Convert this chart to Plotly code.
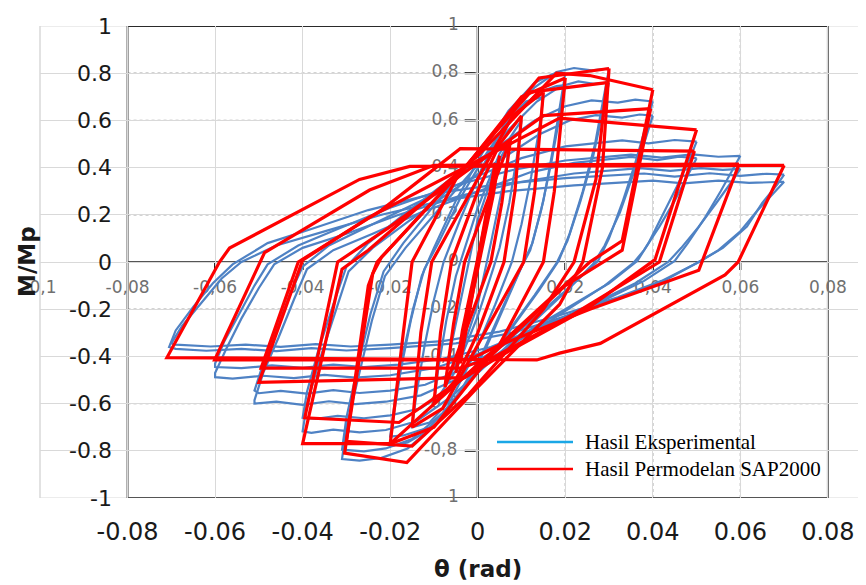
import plotly.graph_objects as go

# ---------------- data (theta [rad], M/Mp) ----------------
# SAP2000 model loops (vertices)
red_070 = [(0.0700,0.410),(0.0595,0.000),(0.0565,-0.055),(0.0280,-0.345),(0.0187,-0.386),(0.0135,-0.415),
           (-0.0710,-0.405),(-0.0590,0.000),(-0.0567,0.059),(-0.0270,0.350),(-0.0155,0.405),(0.0700,0.410)]
red_060 = [(0.0597,0.415),(0.0505,-0.035),(0.0256,-0.200),(0.0040,-0.360),(-0.0020,-0.415),(-0.0601,-0.415),
           (-0.0487,0.040),(-0.0247,0.305),(-0.0100,0.410),(0.0597,0.415)]
red_050a = [(0.0500,0.560),(0.0405,0.010),(0.0256,-0.190),(0.0050,-0.400),(-0.0030,-0.490),(-0.0500,-0.510),
            (-0.0400,0.008),(-0.0247,0.190),(0.0187,0.610),(0.0500,0.560)]
red_050b = [(0.0495,0.470),(0.0415,0.000),(0.0220,-0.220),(0.0040,-0.400),(-0.0040,-0.450),(-0.0495,-0.450),
            (-0.0410,0.000),(-0.0220,0.220),(-0.0040,0.480),(0.0495,0.470)]
red_040a = [(0.0400,0.730),(0.0330,0.090),(0.0256,0.000),(0.0080,-0.300),(-0.0200,-0.770),(-0.0400,-0.770),
            (-0.0310,-0.030),(-0.0250,0.050),(0.0000,0.450),(0.0180,0.800),(0.0256,0.790),(0.0400,0.730)]
red_040b = [(0.0395,0.650),(0.0330,0.050),(0.0200,-0.100),(0.0000,-0.450),(-0.0180,-0.680),(-0.0395,-0.660),
            (-0.0320,0.000),(-0.0200,0.150),(0.0000,0.420),(0.0150,0.620),(0.0395,0.650)]
red_030a = [(0.0300,0.820),(0.0285,0.400),(0.0240,0.000),(0.0187,-0.180),(0.0000,-0.530),(-0.0162,-0.850),
            (-0.0304,-0.810),(-0.0250,-0.100),(-0.0230,0.000),(-0.0020,0.420),(0.0140,0.780),(0.0300,0.820)]
red_030b = [(0.0295,0.760),(0.0270,0.350),(0.0220,0.000),(0.0150,-0.200),(-0.0020,-0.560),(-0.0150,-0.780),
            (-0.0300,-0.760),(-0.0240,-0.050),(-0.0220,0.020),(-0.0030,0.400),(0.0120,0.720),(0.0295,0.760)]
red_020 = [(0.0200,0.780),(0.0175,0.300),(0.0150,0.000),(0.0050,-0.350),(-0.0100,-0.700),(-0.0200,-0.770),
           (-0.0170,-0.300),(-0.0150,0.000),(-0.0050,0.350),(0.0100,0.700),(0.0200,0.780)]
red_015 = [(0.0150,0.720),(0.0130,0.300),(0.0105,0.000),(0.0000,-0.350),(-0.0080,-0.620),(-0.0150,-0.700),
           (-0.0130,-0.300),(-0.0105,0.000),(0.0000,0.350),(0.0080,0.620),(0.0150,0.720)]
red_010 = [(0.0100,0.620),(0.0085,0.300),(0.0060,0.000),(0.0000,-0.300),(-0.0050,-0.500),(-0.0100,-0.600),
           (-0.0085,-0.300),(-0.0060,0.000),(0.0000,0.300),(0.0050,0.500),(0.0100,0.620)]
red_0075 = [(0.0075,0.520),(0.0055,0.250),(0.0030,0.000),(-0.0075,-0.530),(-0.0055,-0.260),(-0.0030,0.000),(0.0075,0.520)]
red_005 = [(0.0050,0.450),(0.0035,0.280),(-0.0050,-0.470),(-0.0035,-0.290),(0.0050,0.450)]
red_004 = [(0.0040,0.420),(0.0030,0.300),(-0.0040,-0.430),(-0.0030,-0.310),(0.0040,0.420)]

# Experimental loops
blue_070a = [(0.0700,0.370),(0.0685,0.330),(0.0650,0.250),(0.0615,0.150),(0.0560,0.060),(0.0510,0.005),(0.0430,-0.075),
             (0.0330,-0.150),(0.0200,-0.230),(0.0080,-0.300),(-0.0050,-0.345),(-0.0200,-0.365),(-0.0300,-0.375),
             (-0.0380,-0.365),(-0.0460,-0.378),(-0.0540,-0.368),(-0.0620,-0.376),(-0.0690,-0.368),(-0.0705,-0.360),
             (-0.0690,-0.290),(-0.0650,-0.190),(-0.0605,-0.090),(-0.0560,-0.010),(-0.0480,0.080),(-0.0380,0.140),
             (-0.0250,0.220),(-0.0100,0.290),(0.0050,0.330),(0.0200,0.355),(0.0300,0.365),(0.0380,0.375),
             (0.0450,0.362),(0.0530,0.376),(0.0600,0.365),(0.0660,0.374),(0.0700,0.370)]
blue_070b = [(0.0700,0.340),(0.0680,0.300),(0.0640,0.220),(0.0600,0.130),(0.0550,0.050),(0.0500,-0.005),(0.0420,-0.080),
             (0.0320,-0.150),(0.0180,-0.230),(0.0050,-0.295),(-0.0080,-0.335),(-0.0200,-0.350),(-0.0290,-0.358),
             (-0.0370,-0.348),(-0.0450,-0.360),(-0.0530,-0.350),(-0.0610,-0.358),(-0.0690,-0.350),(-0.0700,-0.345),
             (-0.0675,-0.270),(-0.0630,-0.170),(-0.0585,-0.070),(-0.0540,0.000),(-0.0460,0.070),(-0.0350,0.130),
             (-0.0220,0.200),(-0.0080,0.260),(0.0070,0.300),(0.0220,0.325),(0.0320,0.335),(0.0400,0.345),
             (0.0470,0.333),(0.0550,0.345),(0.0620,0.335),(0.0700,0.340)]
blue_060a = [(0.0600,0.450),(0.0585,0.400),(0.0555,0.300),(0.0520,0.190),(0.0480,0.080),(0.0450,0.005),(0.0380,-0.080),
             (0.0280,-0.170),(0.0150,-0.270),(0.0030,-0.360),(-0.0080,-0.410),(-0.0180,-0.435),(-0.0260,-0.445),
             (-0.0330,-0.435),(-0.0400,-0.448),(-0.0470,-0.438),(-0.0540,-0.450),(-0.0600,-0.445),(-0.0600,-0.430),
             (-0.0580,-0.340),(-0.0545,-0.220),(-0.0510,-0.100),(-0.0480,-0.010),(-0.0410,0.070),(-0.0320,0.140),
             (-0.0200,0.230),(-0.0060,0.320),(0.0080,0.390),(0.0200,0.430),(0.0280,0.445),(0.0350,0.455),
             (0.0420,0.442),(0.0490,0.456),(0.0550,0.446),(0.0600,0.450)]
blue_060b = [(0.0600,0.395),(0.0580,0.340),(0.0545,0.250),(0.0505,0.150),(0.0465,0.060),(0.0435,0.000),(0.0360,-0.090),
             (0.0250,-0.190),(0.0120,-0.300),(0.0000,-0.390),(-0.0100,-0.450),(-0.0200,-0.480),(-0.0280,-0.490),
             (-0.0350,-0.478),(-0.0420,-0.492),(-0.0490,-0.482),(-0.0560,-0.494),(-0.0600,-0.488),(-0.0600,-0.470),
             (-0.0575,-0.370),(-0.0540,-0.240),(-0.0500,-0.110),(-0.0465,-0.010),(-0.0400,0.060),(-0.0300,0.120),
             (-0.0180,0.200),(-0.0040,0.280),(0.0100,0.340),(0.0220,0.375),(0.0300,0.388),(0.0370,0.398),
             (0.0440,0.386),(0.0510,0.398),(0.0560,0.390),(0.0600,0.395)]
blue_050a = [(0.0500,0.510),(0.0485,0.440),(0.0455,0.320),(0.0420,0.190),(0.0390,0.080),(0.0365,0.005),(0.0300,-0.090),
             (0.0200,-0.200),(0.0080,-0.330),(-0.0030,-0.450),(-0.0120,-0.520),(-0.0200,-0.545),(-0.0270,-0.555),
             (-0.0330,-0.543),(-0.0390,-0.558),(-0.0450,-0.546),(-0.0500,-0.556),(-0.0510,-0.545),(-0.0490,-0.430),
             (-0.0460,-0.290),(-0.0430,-0.140),(-0.0400,-0.020),(-0.0340,0.070),(-0.0250,0.150),(-0.0140,0.250),
             (-0.0020,0.350),(0.0100,0.440),(0.0200,0.490),(0.0270,0.505),(0.0330,0.515),(0.0390,0.503),
             (0.0450,0.517),(0.0500,0.510)]
blue_050b = [(0.0500,0.440),(0.0480,0.370),(0.0450,0.260),(0.0415,0.150),(0.0380,0.050),(0.0355,-0.005),(0.0290,-0.100),
             (0.0190,-0.220),(0.0070,-0.360),(-0.0040,-0.490),(-0.0130,-0.565),(-0.0210,-0.592),(-0.0280,-0.602),
             (-0.0340,-0.590),(-0.0400,-0.605),(-0.0460,-0.592),(-0.0510,-0.600),(-0.0510,-0.585),(-0.0490,-0.470),
             (-0.0455,-0.320),(-0.0420,-0.160),(-0.0390,-0.030),(-0.0330,0.050),(-0.0240,0.120),(-0.0130,0.210),
             (0.0000,0.300),(0.0120,0.380),(0.0220,0.420),(0.0290,0.435),(0.0350,0.445),(0.0410,0.432),
             (0.0460,0.446),(0.0500,0.440)]
blue_040a = [(0.0400,0.680),(0.0385,0.580),(0.0360,0.420),(0.0330,0.250),(0.0300,0.100),(0.0275,0.005),(0.0220,-0.090),
             (0.0140,-0.220),(0.0040,-0.380),(-0.0050,-0.520),(-0.0130,-0.620),(-0.0200,-0.650),(-0.0260,-0.662),
             (-0.0320,-0.652),(-0.0370,-0.665),(-0.0400,-0.660),(-0.0390,-0.550),(-0.0365,-0.380),(-0.0330,-0.180),
             (-0.0300,-0.020),(-0.0250,0.080),(-0.0170,0.200),(-0.0070,0.340),(0.0040,0.480),(0.0130,0.600),
             (0.0200,0.660),(0.0260,0.685),(0.0320,0.675),(0.0360,0.688),(0.0400,0.680)]
blue_040b = [(0.0400,0.620),(0.0383,0.520),(0.0355,0.370),(0.0325,0.210),(0.0290,0.070),(0.0265,-0.005),(0.0210,-0.110),
             (0.0130,-0.250),(0.0030,-0.420),(-0.0060,-0.570),(-0.0140,-0.675),(-0.0210,-0.712),(-0.0270,-0.722),
             (-0.0330,-0.710),(-0.0380,-0.724),(-0.0400,-0.718),(-0.0390,-0.600),(-0.0362,-0.420),(-0.0325,-0.210),
             (-0.0295,-0.040),(-0.0240,0.060),(-0.0160,0.170),(-0.0060,0.300),(0.0050,0.430),(0.0140,0.540),
             (0.0210,0.600),(0.0270,0.622),(0.0330,0.612),(0.0370,0.625),(0.0400,0.620)]
blue_030a = [(0.0300,0.820),(0.0288,0.700),(0.0268,0.500),(0.0240,0.300),(0.0210,0.120),(0.0185,0.005),(0.0140,-0.120),
             (0.0070,-0.300),(-0.0010,-0.480),(-0.0080,-0.640),(-0.0150,-0.750),(-0.0210,-0.790),(-0.0260,-0.802),
             (-0.0310,-0.795),(-0.0300,-0.660),(-0.0275,-0.450),(-0.0245,-0.220),(-0.0215,-0.040),(-0.0170,0.080),
             (-0.0100,0.240),(-0.0020,0.420),(0.0060,0.600),(0.0130,0.740),(0.0180,0.805),(0.0220,0.822),
             (0.0260,0.812),(0.0300,0.820)]
blue_030b = [(0.0300,0.760),(0.0286,0.640),(0.0264,0.450),(0.0235,0.260),(0.0205,0.090),(0.0180,-0.005),(0.0130,-0.140),
             (0.0060,-0.320),(-0.0020,-0.510),(-0.0090,-0.680),(-0.0160,-0.790),(-0.0220,-0.830),(-0.0270,-0.842),
             (-0.0310,-0.835),(-0.0300,-0.700),(-0.0272,-0.480),(-0.0242,-0.250),(-0.0212,-0.060),(-0.0165,0.060),
             (-0.0095,0.210),(-0.0015,0.380),(0.0065,0.550),(0.0135,0.680),(0.0190,0.745),(0.0230,0.765),
             (0.0265,0.755),(0.0300,0.760)]
blue_020a = [(0.0200,0.800),(0.0190,0.680),(0.0172,0.480),(0.0150,0.260),(0.0125,0.080),(0.0105,0.000),(0.0070,-0.150),
             (0.0020,-0.360),(-0.0040,-0.560),(-0.0100,-0.700),(-0.0160,-0.765),(-0.0200,-0.780),(-0.0192,-0.650),
             (-0.0175,-0.450),(-0.0152,-0.240),(-0.0128,-0.060),(-0.0100,0.060),(-0.0050,0.260),(0.0010,0.460),
             (0.0070,0.640),(0.0130,0.760),(0.0170,0.795),(0.0200,0.800)]
blue_020b = [(0.0200,0.750),(0.0188,0.620),(0.0168,0.420),(0.0145,0.220),(0.0120,0.050),(0.0100,-0.020),(0.0060,-0.180),
             (0.0010,-0.390),(-0.0050,-0.580),(-0.0110,-0.700),(-0.0170,-0.735),(-0.0200,-0.740),(-0.0190,-0.600),
             (-0.0172,-0.400),(-0.0148,-0.200),(-0.0122,-0.030),(-0.0090,0.080),(-0.0040,0.270),(0.0020,0.460),
             (0.0080,0.620),(0.0140,0.720),(0.0180,0.745),(0.0200,0.750)]
blue_015 = [(0.0150,0.700),(0.0140,0.560),(0.0122,0.360),(0.0100,0.160),(0.0078,0.000),(0.0040,-0.180),(-0.0010,-0.400),
            (-0.0060,-0.580),(-0.0110,-0.680),(-0.0150,-0.700),(-0.0140,-0.560),(-0.0122,-0.360),(-0.0100,-0.160),
            (-0.0078,0.000),(-0.0040,0.180),(0.0010,0.400),(0.0060,0.580),(0.0110,0.680),(0.0150,0.700)]
blue_010 = [(0.0100,0.600),(0.0090,0.450),(0.0072,0.250),(0.0050,0.060),(0.0035,-0.030),(0.0000,-0.230),(-0.0050,-0.460),
            (-0.0100,-0.600),(-0.0090,-0.450),(-0.0072,-0.250),(-0.0050,-0.060),(-0.0035,0.030),(0.0000,0.230),
            (0.0050,0.460),(0.0100,0.600)]
blue_0075 = [(0.0075,0.520),(0.0060,0.350),(0.0030,0.080),(0.0000,-0.180),(-0.0040,-0.400),(-0.0075,-0.520),
             (-0.0060,-0.350),(-0.0030,-0.080),(0.0000,0.180),(0.0040,0.400),(0.0075,0.520)]

red_loops = [red_070, red_060, red_050a, red_050b, red_040a, red_040b, red_030a, red_030b,
             red_020, red_015, red_010, red_0075, red_005, red_004]
blue_loops = [blue_070a, blue_070b, blue_060a, blue_060b, blue_050a, blue_050b, blue_040a, blue_040b,
              blue_030a, blue_030b, blue_020a, blue_020b, blue_015, blue_010, blue_0075]

x_ticks = [-0.1, -0.08, -0.06, -0.04, -0.02, 0, 0.02, 0.04, 0.06, 0.08]
x_ticktext = ["", "-0.08", "-0.06", "-0.04", "-0.02", "0", "0.02", "0.04", "0.06", "0.08"]
y_ticks = [1, 0.8, 0.6, 0.4, 0.2, 0, -0.2, -0.4, -0.6, -0.8, -1]
y_ticktext = ["1", "0.8", "0.6", "0.4", "0.2", "0", "-0.2", "-0.4", "-0.6", "-0.8", "-1"]
inner_x_ticks = [-0.1, -0.08, -0.06, -0.04, -0.02, 0.02, 0.04, 0.06, 0.08]
inner_x_text = ["-0,1", "-0,08", "-0,06", "-0,04", "-0,02", "0,02", "0,04", "0,06", "0,08"]
inner_y_ticks = [1, 0.8, 0.6, 0.4, 0.2, 0, -0.2, -0.4, -0.6, -0.8, -1]
inner_y_text = ["1", "0,8", "0,6", "0,4", "0,2", "0", "-0,2", "-0,4", "-0,6", "-0,8", "1"]

# ---------------- geometry helpers (screen pixel -> coordinates) ----------------
# the page body adds an 8px offset, so the figure is drawn 8px right/down of the window corner
OFF = 8
W, H = 866, 585
PL, PT, PW, PH = 40, 26, 826, 472          # wanted plot area on screen
L, T = PL - OFF, PT - OFF
R, B = W - L - PW, H - T - PH
def pxx(p):  # screen pixel x -> paper
    return (p - PL) / PW
def pxy(p):  # screen pixel y -> paper
    return (PT + PH - p) / PH
def thx(p):  # screen pixel x -> theta
    return (p - 478) / 4375.0
def my(p):   # screen pixel y -> M
    return (262 - p) / 236.0

def flatten(loops):
    xs, ys = [], []
    for lp in loops:
        for t, m in lp:
            xs.append(t); ys.append(m)
        xs.append(None); ys.append(None)
    return xs, ys

fig = go.Figure()

# inner (embedded chart) labels, drawn beneath the curves
lab_x, lab_y, lab_t = [], [], []
for v, s in zip(inner_x_ticks, inner_x_text):
    lab_x.append(v); lab_y.append(my(289)); lab_t.append(s)
for v, s in zip(inner_y_ticks, inner_y_text):
    w = len(s) * 8.5
    lab_x.append(thx(458 - w / 2)); lab_y.append(v); lab_t.append(s)
fig.add_trace(go.Scatter(x=lab_x, y=lab_y, text=lab_t, mode="text", cliponaxis=False,
                         textfont=dict(family="DejaVu Sans", size=17, color="#707070"),
                         showlegend=False, hoverinfo="skip"))

bx, by = flatten(blue_loops)
fig.add_trace(go.Scatter(x=bx, y=by, mode="lines", line=dict(color="#4f82c4", width=2.2),
                         showlegend=False, connectgaps=False))
rx, ry = flatten(red_loops)
fig.add_trace(go.Scatter(x=rx, y=ry, mode="lines", line=dict(color="#ff0000", width=3.2),
                         showlegend=False, connectgaps=False))

shapes = []
# dotted inner grid
for v in [0.8, 0.6, 0.2, -0.2, -0.6]:
    shapes.append(dict(type="line", xref="x", yref="y", x0=-0.08, x1=0.08, y0=v, y1=v, layer="below",
                       line=dict(color="#a8a8a8", width=1.3, dash="dot")))
for v in [0.02, 0.04, 0.06]:
    shapes.append(dict(type="line", xref="x", yref="y", x0=v, x1=v, y0=-1, y1=1, layer="below",
                       line=dict(color="#a8a8a8", width=1.3, dash="dot")))
# outer grid lines at the plot edges
for v in [1, -1]:
    shapes.append(dict(type="line", xref="paper", yref="y", x0=0, x1=1, y0=v, y1=v, layer="below",
                       line=dict(color="#d9d9d9", width=1)))
shapes.append(dict(type="line", xref="paper", yref="y", x0=0, x1=0, y0=-1, y1=1, layer="below",
                   line=dict(color="#d9d9d9", width=1.5)))
# frame of embedded chart
shapes.append(dict(type="line", xref="x", yref="y", x0=-0.08, x1=0.08, y0=1, y1=1, layer="below",
                   line=dict(color="#2a2a2a", width=2)))
shapes.append(dict(type="line", xref="x", yref="y", x0=-0.08, x1=-0.08, y0=-1, y1=1, layer="below",
                   line=dict(color="#555555", width=2)))
shapes.append(dict(type="line", xref="x", yref="y", x0=-0.08, x1=0.08, y0=-1, y1=-1, layer="below",
                   line=dict(color="#555555", width=2)))
shapes.append(dict(type="line", xref="x", yref="y", x0=0.08, x1=0.08, y0=-1, y1=1, layer="below",
                   line=dict(color="#666666", width=2)))
shapes.append(dict(type="line", xref="x", yref="y", x0=-0.08, x1=0.08, y0=0, y1=0, layer="below",
                   line=dict(color="#555555", width=2)))
shapes.append(dict(type="line", xref="x", yref="y", x0=0, x1=0, y0=-1, y1=1, layer="below",
                   line=dict(color="#111111", width=2)))
# small tick marks of the embedded chart
for v in [0.8, 0.6, 0.4, 0.2, -0.2, -0.4, -0.6, -0.8]:
    shapes.append(dict(type="line", xref="x", yref="y", x0=thx(465), x1=thx(476), y0=v, y1=v, layer="below",
                       line=dict(color="#111111", width=2)))
for v in [-0.06, -0.04, -0.02, 0.02, 0.04, 0.06]:
    shapes.append(dict(type="line", xref="x", yref="y", x0=v, x1=v, y0=0, y1=my(270), layer="below",
                       line=dict(color="#111111", width=2)))
# legend samples
shapes.append(dict(type="line", xref="paper", yref="paper", x0=pxx(497), x1=pxx(573), y0=pxy(442), y1=pxy(442),
                   line=dict(color="#1aa7e6", width=2.5)))
shapes.append(dict(type="line", xref="paper", yref="paper", x0=pxx(497), x1=pxx(573), y0=pxy(469), y1=pxy(469),
                   line=dict(color="#ff0000", width=2.5)))

annotations = []
for v, s in zip(y_ticks, y_ticktext):
    annotations.append(dict(x=pxx(114), y=v, xref="paper", yref="y", text=s, showarrow=False,
                            xanchor="right", yanchor="middle",
                            font=dict(family="DejaVu Sans", size=22, color="#1a1a1a")))
annotations.append(dict(x=pxx(27), y=0, xref="paper", yref="y", text="<b>M/Mp</b>", textangle=-90,
                        showarrow=False, xanchor="center", yanchor="middle",
                        font=dict(family="DejaVu Sans", size=23, color="#1a1a1a")))
annotations.append(dict(x=pxx(478), y=pxy(569), xref="paper", yref="paper", text="<b>θ (rad)</b>",
                        showarrow=False, xanchor="center", yanchor="middle",
                        font=dict(family="DejaVu Sans", size=23, color="#1a1a1a")))
annotations.append(dict(x=pxx(583), y=pxy(442), xref="paper", yref="paper", text="Hasil Eksperimental",
                        showarrow=False, xanchor="left", yanchor="middle",
                        font=dict(family="Liberation Serif", size=21, color="#000000")))
annotations.append(dict(x=pxx(583), y=pxy(469), xref="paper", yref="paper", text="Hasil Permodelan SAP2000",
                        showarrow=False, xanchor="left", yanchor="middle",
                        font=dict(family="Liberation Serif", size=21, color="#000000")))

fig.update_layout(
    width=W, height=H,
    margin=dict(l=L, r=R, t=T, b=B, pad=0, autoexpand=False),
    plot_bgcolor="white", paper_bgcolor="white",
    showlegend=False,
    shapes=shapes, annotations=annotations,
    xaxis=dict(range=[-0.1, 0.0887], tickvals=x_ticks, ticktext=x_ticktext, showgrid=True, automargin=False,
               gridcolor="#d9d9d9", gridwidth=1, zeroline=False, showline=False,
               ticks="outside", ticklen=12, tickcolor="rgba(0,0,0,0)",
               tickfont=dict(family="DejaVu Sans", size=24, color="#1a1a1a"), fixedrange=True),
    yaxis=dict(range=[-1, 1], tickvals=y_ticks, showticklabels=False, showgrid=True, automargin=False,
               gridcolor="#d9d9d9", gridwidth=1, zeroline=False, showline=False, fixedrange=True),
)

fig.write_html("out.html")
